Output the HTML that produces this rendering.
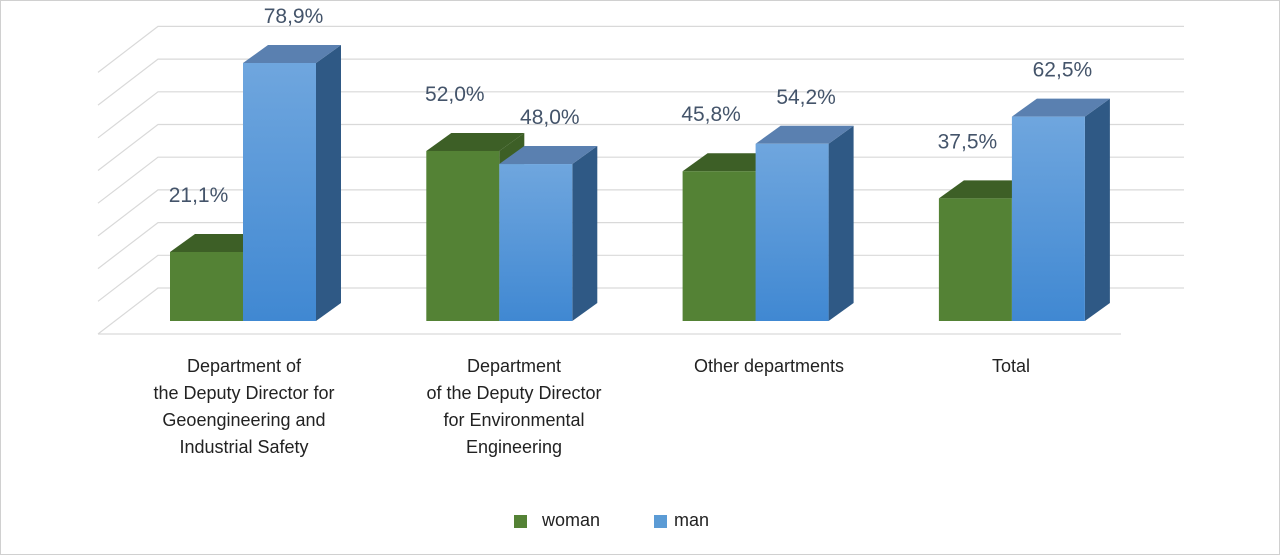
<!DOCTYPE html>
<html><head><meta charset="utf-8"><style>
body{margin:0;background:#fff;}
#wrap{position:relative;width:1278px;height:553px;border:1px solid #d0d0d0;overflow:hidden;font-family:"Liberation Sans",sans-serif;}
.xl{position:absolute;top:352px;width:240px;text-align:center;font-size:18px;line-height:27px;color:#222;}
</style></head><body>
<div id="wrap">
<svg id="svg" width="1278" height="553">
<defs>
<linearGradient id="gb" x1="0" y1="0" x2="0" y2="1"><stop offset="0" stop-color="#6fa6de"/><stop offset="1" stop-color="#4088d2"/></linearGradient>
</defs>
<g id="grid"></g><g id="bars"></g><g id="labels"></g>
</svg>
<div class="xl" style="left:123px">Department of<br>the Deputy Director for<br>Geoengineering and<br>Industrial Safety</div>
<div class="xl" style="left:393px">Department<br>of the Deputy Director<br>for Environmental<br>Engineering</div>
<div class="xl" style="left:648px">Other departments</div>
<div class="xl" style="left:890px">Total</div>
<div style="position:absolute;left:513px;top:514px;width:13px;height:13px;background:#548235"></div>
<div style="position:absolute;left:541px;top:509px;font-size:18px;color:#222">woman</div>
<div style="position:absolute;left:653px;top:514px;width:13px;height:13px;background:#5b9bd5"></div>
<div style="position:absolute;left:673px;top:509px;font-size:18px;color:#222">man</div>
</div>
<script>
const categories=["Geoengineering","Environmental","Other","Total"];
const woman=[21.1,52.0,45.8,37.5];
const man=[78.9,48.0,54.2,62.5];
const gridTicks=[0,10,20,30,40,50,60,70,80];
const NS="http://www.w3.org/2000/svg";
const base=320, pxPer=3.27, dx=25, dy=-18;
const y=v=>base-v*pxPer;
const gx=i=>169+i*256.3;
function mk(tag,attrs,parent){const e=document.createElementNS(NS,tag);for(const k in attrs)e.setAttribute(k,attrs[k]);parent.appendChild(e);return e;}
const grid=document.getElementById('grid'),bars=document.getElementById('bars'),labels=document.getElementById('labels');
gridTicks.forEach(t=>{
  const yb=y(t)-33;
  const g=mk('polyline',{points:`97,${yb+46} 157,${yb} 1183,${yb}`,fill:'none',stroke:'#d9d9d9','stroke-width':1.2},grid);
  
  
});
mk('line',{x1:97,y1:333,x2:1120,y2:333,stroke:'#d9d9d9','stroke-width':1.2},grid);
function bar(x,v,front,top,side,name,lx,ly){
  const g=mk('g',{},bars);
  
  
  const w=73,t=y(v);
  mk('polygon',{points:`${x+w},${t} ${x+w+dx},${t+dy} ${x+w+dx},${base+dy} ${x+w},${base}`,fill:side},g);
  mk('polygon',{points:`${x},${t} ${x+dx},${t+dy} ${x+w+dx},${t+dy} ${x+w},${t}`,fill:top},g);
  mk('rect',{x:x,y:t,width:w,height:base-t,fill:front},g);
  const l=mk('text',{x:x+w/2+lx,y:t-ly,'text-anchor':'middle','font-size':21,fill:'#44546a','font-family':'Liberation Sans, sans-serif'},labels);
  l.textContent=v.toFixed(1).replace('.',',')+'%';
  
  
}
categories.forEach((c,i)=>{
  const x=gx(i);
  bar(x,woman[i],'#548235','#3d5f26','#3d5f26','bar-woman-'+i,-8,50);
  bar(x+73,man[i],'url(#gb)','#5a80b0','#2f5985','bar-man-'+i,14,40);
});
</script>
</body></html>
